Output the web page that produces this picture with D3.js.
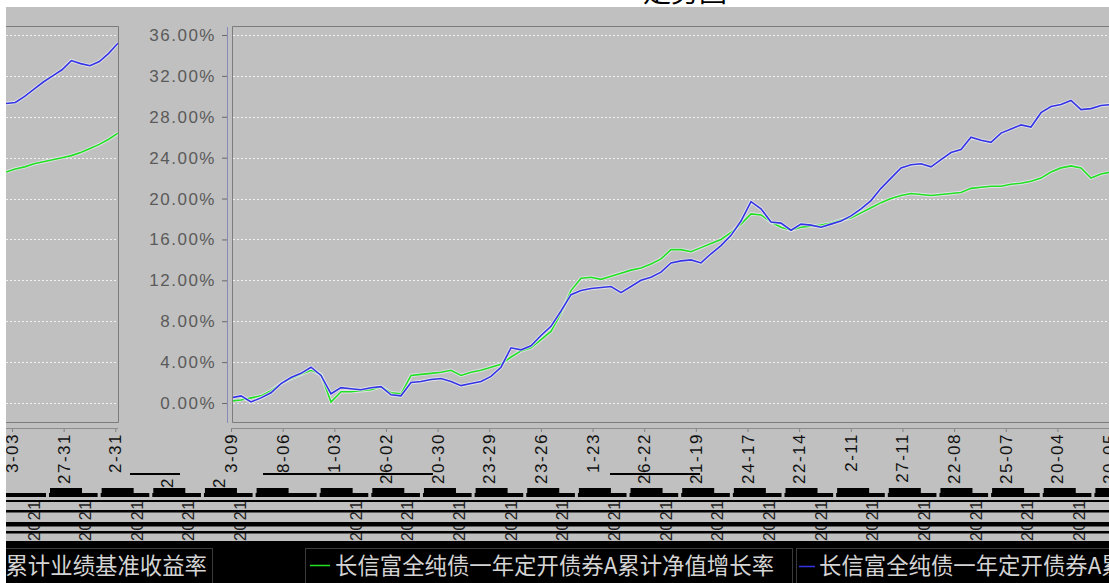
<!DOCTYPE html>
<html><head><meta charset="utf-8">
<script src="https://cdn.jsdelivr.net/npm/d3@7"></script>
<style>html,body{margin:0;padding:0;background:#fff;overflow:hidden}</style>
</head><body>
<svg id="c" width="1109" height="583"></svg>
<script>
// ---------------- data ----------------
const yTicks = [0, 4, 8, 12, 16, 20, 24, 28, 32, 36];
const mainLabels = ["3-09","8-06","1-03","26-02","20-30","23-29","23-26","1-23","26-22","21-19","24-17","22-14","2-11","27-11","22-08","25-07","20-04","20-05"];
const leftLabels = ["3-03","27-31","2-31","2","2"];
const yearFragment = "2021";
// 长信富全纯债一年定开债券A 累计净值增长率 (green)
const netGrowth = [0.2,0.3,0.5,0.7,1.2,1.9,2.4,2.8,3.2,2.8,
  0.1,1.1,1.1,1.2,1.3,1.6,1.0,0.9,2.7,2.8,
  2.9,3.0,3.2,2.7,3.0,3.2,3.5,3.8,4.5,5.1,
  5.4,6.2,7.0,8.8,11.0,12.2,12.3,12.1,12.4,12.7,
  13.0,13.2,13.6,14.1,15.0,15.0,14.8,15.2,15.6,16.0,
  16.7,17.5,18.5,18.4,17.7,17.2,16.9,17.2,17.3,17.4,
  17.6,17.9,18.1,18.6,19.1,19.6,20.0,20.3,20.5,20.4,
  20.3,20.4,20.5,20.6,21.0,21.1,21.2,21.2,21.4,21.5,
  21.7,22.0,22.6,23.0,23.2,23.0,22.0,22.4,22.6];
// second series (blue)
const benchReturn = [0.5,0.7,0.1,0.5,1.0,1.9,2.5,2.9,3.5,2.7,
  0.9,1.5,1.4,1.3,1.5,1.6,0.8,0.7,2.0,2.1,
  2.3,2.4,2.1,1.7,1.9,2.1,2.6,3.5,5.4,5.2,
  5.6,6.6,7.5,9.0,10.6,11.0,11.2,11.3,11.4,10.8,
  11.4,12.0,12.3,12.8,13.7,13.9,14.0,13.7,14.6,15.4,
  16.4,17.8,19.7,19.0,17.7,17.6,16.9,17.5,17.4,17.2,
  17.5,17.8,18.3,19.0,19.8,21.0,22.0,23.0,23.3,23.4,
  23.1,23.8,24.5,24.8,26.0,25.7,25.5,26.4,26.8,27.2,
  27.0,28.4,29.0,29.2,29.6,28.7,28.8,29.1,29.2];
// left (duplicated) panel
const leftNet = [22.6,22.9,23.1,23.4,23.6,23.8,24.0,24.2,24.5,24.9,25.3,25.8,26.4];
const leftBench = [29.3,29.4,30.0,30.7,31.4,32.0,32.6,33.5,33.2,33.0,33.4,34.2,35.2];
const titleText = "走势图";
const legendBench = "长信富全纯债一年定开债券A累计业绩基准收益率";
const legendNet = "长信富全纯债一年定开债券A累计净值增长率";
const legendBlue = "长信富全纯债一年定开债券A累计业绩基准收益率";

// ---------------- drawing ----------------
const svg = d3.select("#c");
const W = 1109, H = 583;
const GREY = "#c0c0c0";
const GREEN = "#22e022", BLUE = "#3434e4";
const numFont = "'Liberation Sans', Arial, sans-serif";
const cjkFont = "'Noto Sans CJK SC', sans-serif";

svg.append("rect").attr("width", W).attr("height", H).attr("fill", "#fff");
// title (mostly hidden above the grey area)
svg.append("text").attr("x", 685).attr("y", 2).attr("text-anchor", "middle")
  .attr("font-family", cjkFont).attr("font-size", 28)
  .attr("fill", "#000").text(titleText);
svg.append("rect").attr("x", 6).attr("y", 7).attr("width", W - 6).attr("height", H - 7).attr("fill", GREY);

const y = d3.scaleLinear().domain([0, 36]).range([403, 35]);
const xMain = d3.scaleLinear().domain([0, netGrowth.length - 1]).range([231, 1111]);
const xLeft = d3.scaleLinear().domain([0, leftNet.length - 1]).range([6, 118]);
const step = 51.65;
const xTickMain = d3.scalePoint().domain(d3.range(mainLabels.length)).range([231, 231 + step * (mainLabels.length - 1)]);
const xTickLeft = d3.scalePoint().domain(d3.range(leftLabels.length)).range([12, 12 + step * (leftLabels.length - 1)]);

const defs = svg.append("defs");
defs.append("clipPath").attr("id", "cpMain").append("rect").attr("x", 232).attr("y", 27).attr("width", 880).attr("height", 395);
defs.append("clipPath").attr("id", "cpLeft").append("rect").attr("x", 6).attr("y", 27).attr("width", 112).attr("height", 395);
defs.append("clipPath").attr("id", "cpLab").append("rect").attr("x", 0).attr("y", 431).attr("width", W).attr("height", 58);
defs.append("clipPath").attr("id", "cpLabLow").append("rect").attr("x", 0).attr("y", 476).attr("width", W).attr("height", 13);

// gridlines
function grid(x0, x1) {
  svg.append("g").selectAll("line").data(yTicks).join("line")
    .attr("x1", x0).attr("x2", x1).attr("y1", d => Math.round(y(d)) + 0.5).attr("y2", d => Math.round(y(d)) + 0.5)
    .attr("stroke", "#f2f2f2").attr("stroke-dasharray", "2,2").attr("stroke-width", 1);
}
grid(6, 118);
grid(233, W);

// series
function series(data, xs, color, clip) {
  const line = d3.line().x((d, i) => xs(i)).y(d => y(d)).curve(d3.curveLinear);
  const g = svg.append("g").attr("clip-path", `url(#${clip})`);
  g.append("path").datum(data).attr("d", line).attr("fill", "none")
    .attr("stroke", "#ececf6").attr("stroke-width", 3.4).attr("opacity", 0.75);
  g.append("path").datum(data).attr("d", line).attr("fill", "none")
    .attr("stroke", color).attr("stroke-width", 1.6);
}
series(netGrowth, xMain, GREEN, "cpMain");
series(benchReturn, xMain, BLUE, "cpMain");
series(leftNet, xLeft, GREEN, "cpLeft");
series(leftBench, xLeft, BLUE, "cpLeft");

// panel borders
const bord = "#7c7c7c";
svg.append("path").attr("d", "M6,26.5H118.5V422.5H6").attr("fill", "none").attr("stroke", bord);
svg.append("path").attr("d", `M${W},26.5H232.5V422.5H${W}`).attr("fill", "none").attr("stroke", bord);
svg.append("line").attr("x1", 227.5).attr("x2", 227.5).attr("y1", 27).attr("y2", 423).attr("stroke", "#8a8ab8");

// y axis
const yAxis = d3.axisLeft(y).tickValues(yTicks).tickSize(5).tickPadding(6)
  .tickFormat(d => d.toFixed(2) + "%");
const ya = svg.append("g").attr("transform", "translate(227,0)").call(yAxis);
ya.select(".domain").remove();
ya.selectAll(".tick line").attr("stroke", "#6a6a6a");
ya.selectAll(".tick text").attr("font-family", numFont).attr("font-size", 17)
  .attr("letter-spacing", 1.5).attr("fill", "#5a5a5a");

// x axes
function xAxisAt(scale, values, x0, x1) {
  const ax = d3.axisBottom(scale).tickValues(values).tickSize(4).tickFormat("");
  const g = svg.append("g").attr("transform", "translate(0,428)").call(ax);
  g.select(".domain").remove();
  g.selectAll(".tick line").attr("stroke", "#808080");
  svg.append("line").attr("x1", x0).attr("x2", x1).attr("y1", 428.5).attr("y2", 428.5).attr("stroke", "#8c8c8c");
}
xAxisAt(xTickLeft, [0, 1, 2], 6, 118);
xAxisAt(xTickMain, d3.range(mainLabels.length), 231, W);

// rotated x labels
function labels(scale, idx, list, clip, anchorY) {
  svg.append("g").attr("clip-path", `url(#${clip})`).selectAll("text").data(idx).join("text")
    .attr("transform", i => `translate(${scale(i) + 6},${anchorY}) rotate(-90)`)
    .attr("text-anchor", "end").attr("font-family", numFont).attr("font-size", 17)
    .attr("letter-spacing", 1.5).attr("fill", "#111").text(i => list[i]);
}
labels(xTickMain, d3.range(mainLabels.length), mainLabels, "cpLab", 433);
labels(xTickLeft, [0, 1, 2], leftLabels, "cpLab", 433);
labels(xTickLeft, [3, 4], leftLabels, "cpLabLow", 477);

// glitch band positions derived from the tick scales
const leftPos = d3.range(leftLabels.length).map(i => xTickLeft(i));
const bandTicks = leftPos.concat(d3.range(1, mainLabels.length).map(i => xTickMain(i)));
const fragTicks = leftPos.concat(d3.range(2, 17).map(i => xTickMain(i)));

// year fragments (drawn before stripes so they look clipped)
svg.append("g").selectAll("text").data(fragTicks).join("text")
  .attr("transform", d => `translate(${d + 21.5 + 6},541) rotate(-90)`)
  .attr("font-family", numFont).attr("font-size", 16).attr("letter-spacing", 1.5)
  .attr("fill", "#222").text(yearFragment);

// black segments
[[130, 180], [263, 433], [610, 700]].forEach(s =>
  svg.append("rect").attr("x", s[0]).attr("y", 473).attr("width", s[1] - s[0]).attr("height", 2).attr("fill", "#000"));
svg.append("g").selectAll("rect").data(bandTicks).join("rect")
  .attr("x", d => d + 38).attr("y", 488).attr("width", 32).attr("height", 6).attr("fill", "#000");
svg.append("rect").attr("x", 6).attr("y", 493).attr("width", W).attr("height", 4).attr("fill", "#000");
svg.append("g").selectAll("rect").data(bandTicks).join("rect")
  .attr("x", d => d + 34).attr("y", 493).attr("width", 3).attr("height", 7).attr("fill", GREY);
[[500, 2], [510, 2.5], [522, 4.5], [531, 2.5]].forEach(s =>
  svg.append("rect").attr("x", 6).attr("y", s[0]).attr("width", W).attr("height", s[1]).attr("fill", "#000"));

// legend
svg.append("rect").attr("x", 6).attr("y", 541).attr("width", W).attr("height", H - 541).attr("fill", "#000");
[[-10, 212], [305, 792], [796, 1120]].forEach(b =>
  svg.append("rect").attr("x", b[0] + 0.5).attr("y", 548.5).attr("width", b[1] - b[0]).attr("height", 50)
    .attr("fill", "none").attr("stroke", "#3a3a3a"));
const lg = svg.append("g").attr("font-family", cjkFont).attr("font-size", 22.4).attr("fill", "#d4d4d4");
lg.append("text").attr("x", 207).attr("y", 574).attr("text-anchor", "end").text(legendBench);
svg.append("line").attr("x1", 310).attr("x2", 330).attr("y1", 565.5).attr("y2", 565.5).attr("stroke", GREEN).attr("stroke-width", 1.5);
lg.append("text").attr("x", 335).attr("y", 574).text(legendNet);
svg.append("line").attr("x1", 799).attr("x2", 815).attr("y1", 566.5).attr("y2", 566.5).attr("stroke", BLUE).attr("stroke-width", 1.5);
lg.append("text").attr("x", 819).attr("y", 574).text(legendBlue);

// left white strip
svg.append("rect").attr("x", 0).attr("y", 0).attr("width", 6).attr("height", H).attr("fill", "#fff");
</script>
</body></html>
